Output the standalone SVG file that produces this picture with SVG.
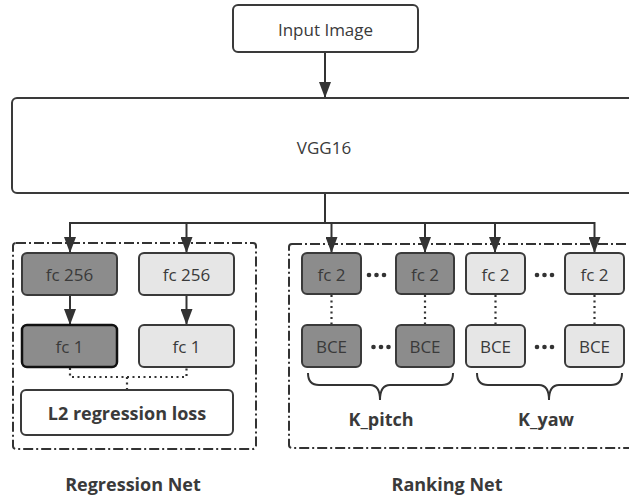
<svg xmlns="http://www.w3.org/2000/svg" width="629" height="497" viewBox="0 0 629 497">
  <defs>
    <marker id="arrow" viewBox="0 0 16 12" refX="16" refY="6" markerWidth="16" markerHeight="12" markerUnits="userSpaceOnUse" orient="auto">
      <path d="M0,0 L16,6 L0,12 z" fill="#333"/>
    </marker>
    <style>
      .node { stroke: #3a3a3a; stroke-width: 2; }
      .dark { fill: #8c8c8c; }
      .light { fill: #e6e6e6; }
      .white { fill: #ffffff; }
      .group { fill: none; stroke: #333; stroke-width: 2; stroke-dasharray: 10 3 2 3; }
      .label { font-family: "Open Sans", "Liberation Sans", sans-serif; font-size: 17px; fill: #3a3a3a; text-anchor: middle; dominant-baseline: central; }
      .bold { font-weight: bold; font-size: 18px; }
      .wire { fill: none; stroke: #333; stroke-width: 2; }
      .dot { fill: none; stroke: #333; stroke-width: 2.2; stroke-dasharray: 2 3.5; }
      .ell { fill: #333; }
    </style>
  </defs>

  <!-- group frames -->
  <rect class="group" x="13" y="243" width="243" height="206" rx="3"/>
  <rect class="group" x="289" y="244" width="352" height="204" rx="3"/>

  <!-- connectors -->
  <g id="connectors">
    <line class="wire" x1="325" y1="52" x2="325" y2="98" marker-end="url(#arrow)"/>
    <line class="wire" x1="325" y1="193" x2="325" y2="223"/>
    <line class="wire" x1="69" y1="223" x2="595" y2="223"/>
    <line class="wire" x1="70" y1="222" x2="70" y2="253" marker-end="url(#arrow)"/>
    <line class="wire" x1="186.5" y1="222" x2="186.5" y2="253" marker-end="url(#arrow)"/>
    <line class="wire" x1="331.5" y1="222" x2="331.5" y2="253" marker-end="url(#arrow)"/>
    <line class="wire" x1="425" y1="222" x2="425" y2="253" marker-end="url(#arrow)"/>
    <line class="wire" x1="495" y1="222" x2="495" y2="253" marker-end="url(#arrow)"/>
    <line class="wire" x1="594.5" y1="222" x2="594.5" y2="253" marker-end="url(#arrow)"/>
    <line class="wire" x1="70" y1="295" x2="70" y2="325" marker-end="url(#arrow)"/>
    <line class="wire" x1="186.5" y1="295" x2="186.5" y2="325" marker-end="url(#arrow)"/>
    <path class="dot" d="M70,368 L70,377 L186.5,377 L186.5,368"/>
    <path class="dot" d="M127,377 L127,390"/>
    <line class="dot" x1="331.5" y1="295" x2="331.5" y2="325"/>
    <line class="dot" x1="425" y1="295" x2="425" y2="325"/>
    <line class="dot" x1="495.5" y1="295" x2="495.5" y2="325"/>
    <line class="dot" x1="594.5" y1="295" x2="594.5" y2="325"/>
    <!-- braces -->
    <path class="wire" d="M308,373 Q308,385 319,385 L370,385 Q380,385 380,400 Q380,385 390,385 L442,385 Q453,385 453,373"/>
    <path class="wire" d="M477,373 Q477,385 488,385 L539,385 Q549,385 549,400 Q549,385 559,385 L611,385 Q622,385 622,373"/>
  </g>

  <g id="input-image">
    <rect class="node white" x="233" y="5" width="185" height="47" rx="5"/>
    <text class="label" x="325.5" y="29">Input Image</text>
  </g>

  <g id="vgg16">
    <rect class="node white" x="12" y="98" width="640" height="95" rx="5"/>
    <text class="label" x="324" y="147">VGG16</text>
  </g>

  <!-- regression branch -->
  <g id="fc256-a">
    <rect class="node dark" x="22" y="253" width="95" height="42" rx="5"/>
    <text class="label" x="69.5" y="274">fc 256</text>
  </g>
  <g id="fc256-b">
    <rect class="node light" x="139" y="253" width="95" height="42" rx="5"/>
    <text class="label" x="186.5" y="274">fc 256</text>
  </g>
  <g id="fc1-a">
    <rect class="dark" x="22" y="325" width="95" height="42" rx="5" stroke="#111" stroke-width="2.5"/>
    <text class="label" x="69.5" y="346">fc 1</text>
  </g>
  <g id="fc1-b">
    <rect class="node light" x="139" y="325" width="95" height="42" rx="5"/>
    <text class="label" x="186.5" y="346">fc 1</text>
  </g>
  <g id="l2-loss">
    <rect class="node white" x="21" y="390" width="212" height="45" rx="5"/>
    <text class="label bold" x="127" y="413">L2 regression loss</text>
  </g>
  <text class="label bold" x="133" y="484">Regression Net</text>

  <!-- ranking branch -->
  <g id="pitch-fc2-first">
    <rect class="node dark" x="302" y="253" width="59" height="41" rx="5"/>
    <text class="label" x="331.5" y="274">fc 2</text>
  </g>
  <g id="pitch-fc2-last">
    <rect class="node dark" x="396" y="253" width="58" height="41" rx="5"/>
    <text class="label" x="425" y="274">fc 2</text>
  </g>
  <g id="yaw-fc2-first">
    <rect class="node light" x="466" y="253" width="59" height="41" rx="5"/>
    <text class="label" x="495.5" y="274">fc 2</text>
  </g>
  <g id="yaw-fc2-last">
    <rect class="node light" x="565" y="253" width="59" height="41" rx="5"/>
    <text class="label" x="594.5" y="274">fc 2</text>
  </g>
  <g id="pitch-bce-first">
    <rect class="node dark" x="302" y="325" width="59" height="42" rx="5"/>
    <text class="label" x="331.5" y="346">BCE</text>
  </g>
  <g id="pitch-bce-last">
    <rect class="node dark" x="396" y="325" width="58" height="42" rx="5"/>
    <text class="label" x="425" y="346">BCE</text>
  </g>
  <g id="yaw-bce-first">
    <rect class="node light" x="466" y="325" width="59" height="42" rx="5"/>
    <text class="label" x="495.5" y="346">BCE</text>
  </g>
  <g id="yaw-bce-last">
    <rect class="node light" x="565" y="325" width="59" height="42" rx="5"/>
    <text class="label" x="594.5" y="346">BCE</text>
  </g>

  <!-- ellipses between repeated heads -->
  <g class="ell">
    <circle cx="369" cy="275" r="2.3"/><circle cx="376.5" cy="275" r="2.3"/><circle cx="384" cy="275" r="2.3"/>
    <circle cx="373.5" cy="347" r="2.3"/><circle cx="381" cy="347" r="2.3"/><circle cx="388.5" cy="347" r="2.3"/>
    <circle cx="537" cy="275" r="2.3"/><circle cx="544.5" cy="275" r="2.3"/><circle cx="552" cy="275" r="2.3"/>
    <circle cx="537" cy="347" r="2.3"/><circle cx="544.5" cy="347" r="2.3"/><circle cx="552" cy="347" r="2.3"/>
  </g>

  <text class="label bold" x="381" y="419">K_pitch</text>
  <text class="label bold" x="546" y="419">K_yaw</text>
  <text class="label bold" x="447" y="484">Ranking Net</text>
</svg>
